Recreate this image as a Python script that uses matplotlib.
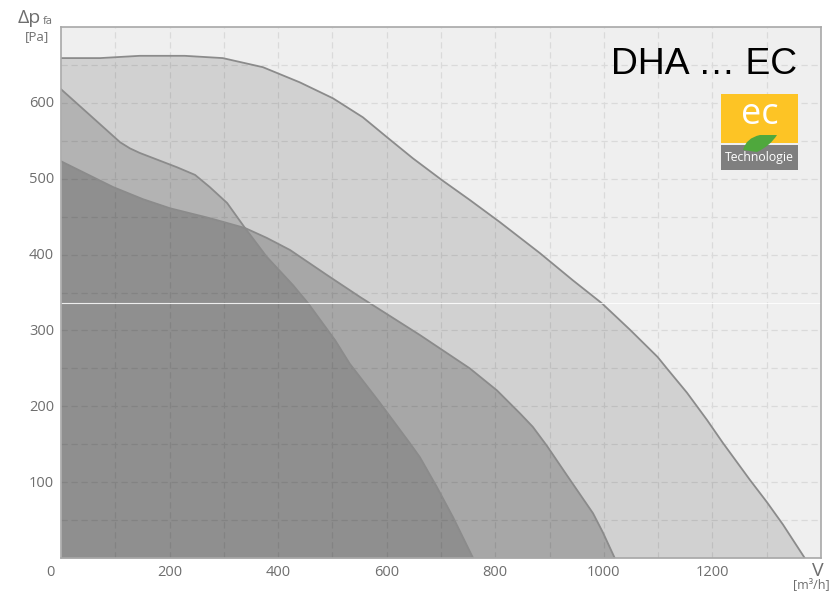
import matplotlib.pyplot as plt
from matplotlib.patches import Rectangle, PathPatch
from matplotlib.path import Path

# curves: volume flow [m3/h], pressure [Pa]
outer_x = [0, 72, 145, 228, 298, 372, 440, 501, 556, 600, 648, 702, 753, 808, 882, 943, 996, 1048, 1099, 1116, 1153, 1190, 1219, 1269, 1300, 1330, 1370]
outer_y = [659, 659, 662, 662, 659, 647, 627, 606, 581, 555, 527, 498, 472, 443, 402, 366, 336, 301, 265, 250, 218, 182, 152, 103, 74, 44, 0]
mid_x = [0, 96, 151, 201, 274, 339, 379, 422, 490, 551, 661, 753, 803, 845, 869, 895, 932, 956, 980, 998, 1020]
mid_y = [523, 489, 473, 461, 448, 435, 422, 406, 373, 344, 294, 250, 221, 191, 173, 148, 109, 84, 59, 34, 0]
low_x = [0, 53, 109, 127, 145, 214, 247, 274, 306, 339, 379, 427, 455, 505, 532, 587, 643, 661, 692, 722, 759]
low_y = [618, 584, 548, 540, 534, 515, 505, 489, 468, 435, 397, 360, 336, 287, 256, 205, 151, 133, 94, 54, 0]

x_ticks = [0, 200, 400, 600, 800, 1000, 1200]
y_ticks = [100, 200, 300, 400, 500, 600]

W, H = 834, 592
fig = plt.figure(figsize=(W / 100, H / 100), dpi=100)
ax = fig.add_axes([61 / W, 1 - 558 / H, 760 / W, 531 / H])
ax.set_facecolor('#efefef')
ax.set_xlim(0, 1400)
ax.set_ylim(0, 700)

ax.set_xticks(range(100, 1400, 100))
ax.set_yticks(range(50, 700, 50))
ax.grid(color='#dadada', linestyle=(0, (5, 3)), linewidth=0.9)
ax.set_axisbelow(True)
ax.tick_params(length=0, labelbottom=False, labelleft=False)
for s in ax.spines.values():
    s.set_color('#a8a8a8')
    s.set_linewidth(1.2)

line_c = '#8b8b8b'
ax.fill_between(outer_x, outer_y, color='#000000', alpha=0.12, lw=0)
ax.fill_between(low_x, low_y, color='#000000', alpha=0.14, lw=0)
ax.fill_between(mid_x, mid_y, color='#000000', alpha=0.2, lw=0)
ax.plot(outer_x, outer_y, color=line_c, lw=1.3, solid_joinstyle='round')
ax.plot(mid_x, mid_y, color=line_c, lw=1.3, solid_joinstyle='round')
ax.plot(low_x, low_y, color=line_c, lw=1.3, solid_joinstyle='round')

# stray white line across the plot
ax.axhline(336, color='white', lw=0.8, alpha=0.85)

label_c = '#6e6e6e'
font = 'Open Sans'
for v in x_ticks:
    px = 50 if v == 0 else 61 + v * 760 / 1400
    fig.text(px / W, 1 - 573 / H, str(v), ha='center', va='center', fontsize=10.5, color=label_c, family=font)
for v in y_ticks:
    py = 558 - v * 531 / 700
    fig.text(54 / W, 1 - (py + 1) / H, str(v), ha='right', va='center', fontsize=10.5, color=label_c, family=font)

fig.text(18 / W, 1 - 18 / H, 'Δp', ha='left', va='center', fontsize=14, color=label_c, family=font)
fig.text(43 / W, 1 - 22 / H, 'fa', ha='left', va='center', fontsize=8, color=label_c, family=font)
fig.text(37 / W, 1 - 37 / H, '[Pa]', ha='center', va='center', fontsize=9.5, color=label_c, family=font)
fig.text(818 / W, 1 - 571 / H, 'V', ha='center', va='center', fontsize=14, color=label_c, family=font)
fig.text(811 / W, 1 - 585 / H, '[m³/h]', ha='center', va='center', fontsize=9, color=label_c, family=font)

fig.text(797 / W, 1 - 64 / H, 'DHA … EC', ha='right', va='center', fontsize=26.8, color='black', family='Liberation Sans')

# ec logo, drawn in figure fractions
fig.add_artist(Rectangle((721 / W, 1 - 143 / H), 77 / W, 49 / H, transform=fig.transFigure, color='#fdc425', lw=0))
fig.add_artist(Rectangle((721 / W, 1 - 170 / H), 77 / W, 25 / H, transform=fig.transFigure, color='#7f7f7f', lw=0))
leaf = [(743, 150), (746, 138), (760, 135), (777, 135), (770, 146), (757, 152), (743, 150)]
leaf_f = [(a / W, 1 - b / H) for a, b in leaf]
codes = [Path.MOVETO, Path.CURVE3, Path.CURVE3, Path.LINETO, Path.CURVE3, Path.CURVE3, Path.CLOSEPOLY]
fig.add_artist(PathPatch(Path(leaf_f, codes), transform=fig.transFigure, facecolor='#4fa83d', lw=0))
fig.text(759.5 / W, 1 - 115 / H, 'ec', ha='center', va='center', fontsize=26, color='white', family='Open Sans')
fig.text(759.5 / W, 1 - 158 / H, 'Technologie', ha='center', va='center', fontsize=8.8, color='white', family='Open Sans')

fig.savefig('out.png', dpi=100)
